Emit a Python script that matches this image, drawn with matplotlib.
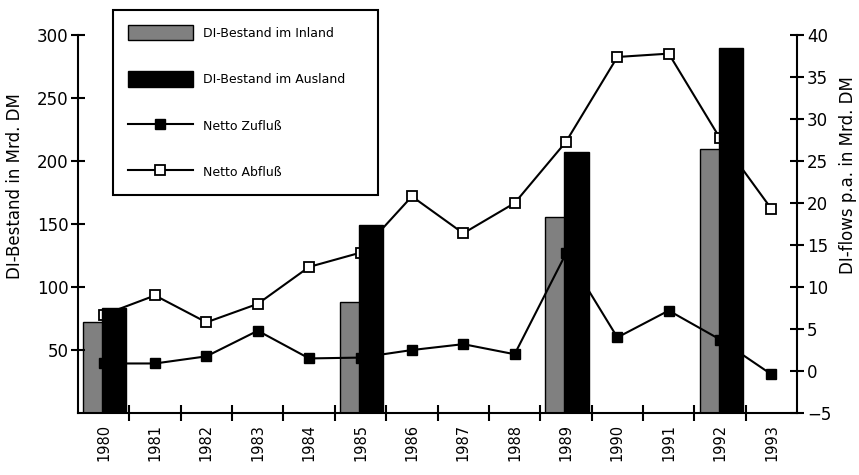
import matplotlib
matplotlib.use("Agg")
import matplotlib.pyplot as plt
import numpy as np

# data
years = ['1980', '1981', '1982', '1983', '1984', '1985', '1986',
         '1987', '1988', '1989', '1990', '1991', '1992', '1993']
bar_years = ['1980', '1985', '1989', '1992']
bestand_inland = [72, 88, 156, 210]
bestand_ausland = [83, 149, 207, 290]
netto_zufluss = [0.9, 0.9, 1.75, 4.8, 1.5, 1.6, 2.5, 3.2, 2.0, 14.0, 4.0, 7.2, 3.75, -0.4]
netto_abfluss = [6.7, 9.0, 5.8, 8.0, 12.4, 14.1, 20.8, 16.4, 20.0, 27.3, 37.4, 37.8, 27.7, 19.3]

x = np.arange(len(years))
xb = np.array([years.index(y) for y in bar_years])

fig = plt.figure(figsize=(8.59, 4.75), dpi=100)
ax1 = fig.add_axes([0.0908, 0.1305, 0.8372, 0.7955])

# gray bars (behind the lines)
ax1.bar(xb - 0.4, bestand_inland, width=0.4, align='edge', color='#808080',
        edgecolor='black', linewidth=1.0, label='DI-Bestand im Inland')
ax1.set_ylim(0, 300)
ax1.set_xlim(-0.5, len(years) - 0.5)
ax1.set_yticks([50, 100, 150, 200, 250, 300])
ax1.set_ylabel('DI-Bestand in Mrd. DM', fontsize=12)
ax1.yaxis.set_label_coords(-0.075, 0.6)

# lines on the right scale
ax2 = ax1.twinx()
ax2.plot(x, netto_zufluss, color='black', lw=1.5, marker='s', ms=7,
         mfc='black', mec='black', label='Netto Zufluß')
ax2.plot(x, netto_abfluss, color='black', lw=1.5, marker='s', ms=7,
         mfc='white', mec='black', mew=1.3, label='Netto Abfluß')
ax2.set_ylim(-5, 40)
ax2.set_yticks(range(-5, 41, 5))
ax2.set_ylabel('DI-flows p.a. in Mrd. DM', fontsize=12)
ax2.yaxis.set_label_coords(1.058, 0.63)

# black bars on top of the lines
ax3 = ax1.twinx()
ax3.bar(xb - 0.03, bestand_ausland, width=0.47, align='edge', color='black',
        edgecolor='black', linewidth=1.0, label='DI-Bestand im Ausland')
ax3.set_ylim(0, 300)
ax3.set_xlim(-0.5, len(years) - 0.5)
ax3.axis('off')

# x axis: ticks on the boundaries, labels at the centres
ax1.set_xticks(np.arange(0.5, len(years) - 0.5, 1))
ax1.set_xticklabels([])
ax1.set_xticks(x, minor=True)
ax1.set_xticklabels(years, minor=True, rotation=90, fontsize=10.5)
ax1.tick_params(axis='x', which='minor', length=0, pad=8)
ax1.tick_params(axis='x', which='major', direction='inout', length=12, width=1.5)
ax1.tick_params(axis='y', direction='inout', length=10, width=1.5, labelsize=12, pad=2)
ax2.tick_params(axis='y', direction='inout', length=10, width=1.5, labelsize=12, pad=2)

for a in (ax1, ax2):
    a.spines['top'].set_visible(False)
    for s in ('left', 'right', 'bottom'):
        a.spines[s].set_linewidth(1.5)
ax1.spines['right'].set_visible(False)
ax2.spines['left'].set_visible(False)
ax2.spines['bottom'].set_visible(False)

h1, l1 = ax1.get_legend_handles_labels()
h3, l3 = ax3.get_legend_handles_labels()
h2, l2 = ax2.get_legend_handles_labels()
leg = fig.legend(h1 + h3 + h2, l1 + l3 + l2, loc='upper left',
                 bbox_to_anchor=(0.1315, 0.589, 0.3085, 0.39), mode='expand',
                 borderaxespad=0, fontsize=9, labelspacing=2.5, handlelength=5.2,
                 handleheight=1.5, borderpad=1.2, fancybox=False,
                 edgecolor='black', framealpha=1)
leg.get_frame().set_linewidth(1.5)

fig.savefig('out.png', dpi=100)
